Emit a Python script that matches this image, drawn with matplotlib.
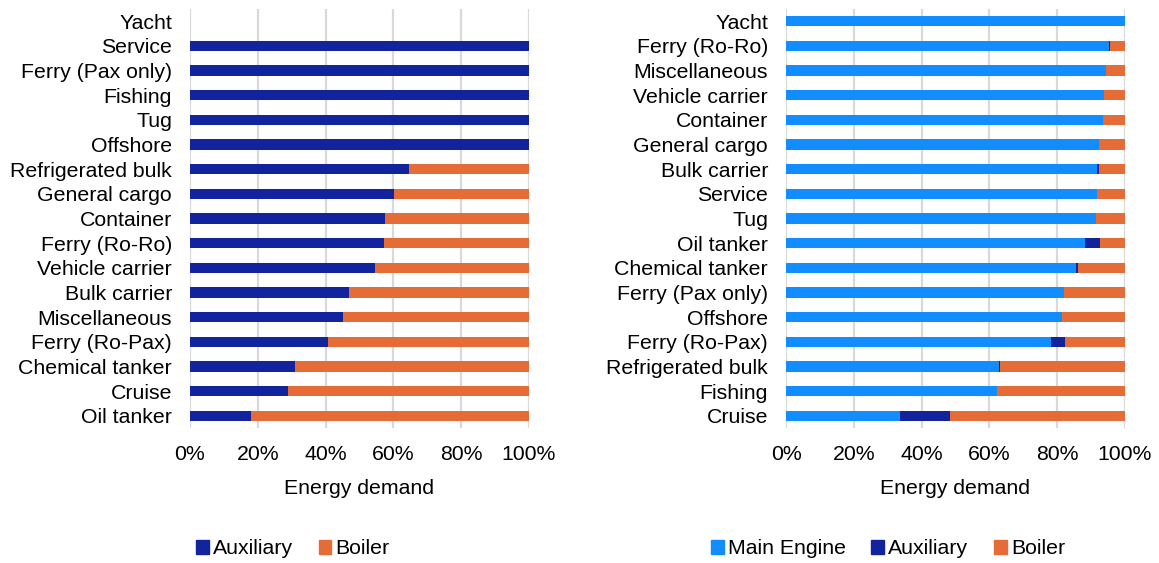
import numpy as np
import matplotlib.pyplot as plt
from matplotlib.patches import Patch

plt.rcParams['font.family'] = ['Liberation Sans', 'DejaVu Sans']

# left chart: share of auxiliary (rest is boiler), top to bottom
left_cats = ['Yacht', 'Service', 'Ferry (Pax only)', 'Fishing', 'Tug', 'Offshore',
             'Refrigerated bulk', 'General cargo', 'Container', 'Ferry (Ro-Ro)',
             'Vehicle carrier', 'Bulk carrier', 'Miscellaneous', 'Ferry (Ro-Pax)',
             'Chemical tanker', 'Cruise', 'Oil tanker']
left_aux = [0, 100, 100, 100, 100, 100, 64.5, 60.2, 57.5, 57.3, 54.6, 46.8,
            45.0, 40.8, 31.0, 28.8, 17.9]
left_boiler = [0 if a in (0, 100) else 100 - a for a in left_aux]

# right chart: main engine / auxiliary / boiler, top to bottom
right_cats = ['Yacht', 'Ferry (Ro-Ro)', 'Miscellaneous', 'Vehicle carrier', 'Container',
              'General cargo', 'Bulk carrier', 'Service', 'Tug', 'Oil tanker',
              'Chemical tanker', 'Ferry (Pax only)', 'Offshore', 'Ferry (Ro-Pax)',
              'Refrigerated bulk', 'Fishing', 'Cruise']
right_main = [100, 95.2, 94.4, 93.7, 93.6, 92.3, 91.8, 91.7, 91.4, 88.1,
              85.5, 82.0, 81.4, 78.1, 62.7, 62.3, 33.5]
right_aux = [0, 0.3, 0, 0, 0, 0, 0.4, 0, 0, 4.5, 0.5, 0, 0, 4.3, 0.4, 0, 15.0]
right_boiler = [100 - m - a for m, a in zip(right_main, right_aux)]

c_main = '#118DFF'
c_aux = '#12239E'
c_boiler = '#E66C37'

W, H = 1159, 563
fig = plt.figure(figsize=(W / 100, H / 100), dpi=100)
fs = 15.3

def setup(ax, cats):
    ax.set_xlim(0, 100)
    ax.set_ylim(len(cats) - 0.5, -0.5)
    ax.set_yticks(range(len(cats)))
    ax.set_yticklabels(cats, fontsize=fs)
    ax.set_xticks([0, 20, 40, 60, 80, 100])
    ax.set_xticklabels(['0%', '20%', '40%', '60%', '80%', '100%'], fontsize=fs)
    ax.tick_params(length=0)
    ax.tick_params(axis='y', pad=13)
    ax.tick_params(axis='x', pad=12)
    for s in ax.spines.values():
        s.set_visible(False)
    ax.grid(axis='x', color='#D9D9D9', linewidth=1.6)
    ax.set_axisbelow(True)
    ax.set_xlabel('Energy demand', fontsize=fs, labelpad=11)

bh = 0.42
ax1 = fig.add_axes([190 / W, 135 / H, 339 / W, 419 / H])
y1 = np.arange(len(left_cats))
ax1.barh(y1, left_aux, height=bh, color=c_aux)
ax1.barh(y1, left_boiler, left=left_aux, height=bh, color=c_boiler)
setup(ax1, left_cats)

ax2 = fig.add_axes([786 / W, 135 / H, 339 / W, 419 / H])
y2 = np.arange(len(right_cats))
ax2.barh(y2, right_main, height=bh, color=c_main)
ax2.barh(y2, right_aux, left=right_main, height=bh, color=c_aux)
ax2.barh(y2, right_boiler, left=np.add(right_main, right_aux), height=bh, color=c_boiler)
setup(ax2, right_cats)

kw = dict(loc='center', ncol=3, frameon=False, fontsize=fs, handlelength=0.6,
          handleheight=0.6, handletextpad=0.2, columnspacing=1.2)
fig.legend(handles=[Patch(color=c_aux, label='Auxiliary'),
                    Patch(color=c_boiler, label='Boiler')],
           bbox_to_anchor=(293 / W, 1 - 549 / H), **kw)
fig.legend(handles=[Patch(color=c_main, label='Main Engine'),
                    Patch(color=c_aux, label='Auxiliary'),
                    Patch(color=c_boiler, label='Boiler')],
           bbox_to_anchor=(888 / W, 1 - 549 / H), **kw)

fig.savefig('out.png', dpi=100)
